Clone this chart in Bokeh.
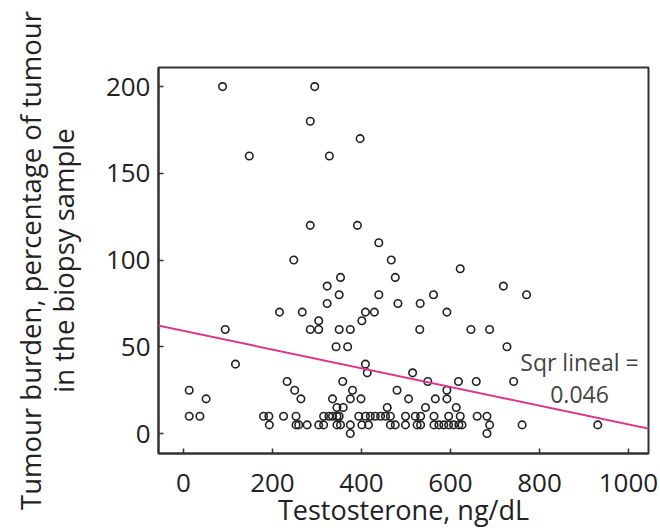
from bokeh.plotting import figure
from bokeh.models import Range1d, Slope, Label, FixedTicker, LinearAxis
from bokeh.embed import file_html
from bokeh.resources import INLINE

# ---- data ----
testosterone = [
    88, 295, 285, 397, 148, 328, 285, 391, 439, 248, 467, 476, 353, 622, 323, 719,
    350, 439, 562, 771, 323, 482, 532, 216, 267, 409, 429, 592, 304, 401,
    94, 285, 304, 350, 375, 531, 646, 688, 343, 369, 727, 117, 409, 413, 515,
    233, 358, 549, 618, 658, 742,
    13, 250, 380, 480, 592,
    51, 264, 335, 375, 399, 506, 566, 592,
    345, 359, 458, 544, 613,
    13, 37, 180, 192, 225, 253, 315, 327, 335, 345, 350, 394, 409, 420, 431, 443,
    454, 465, 499, 521, 533, 563, 596, 622, 660, 682,
    193, 253, 259, 278, 304, 315, 345, 353, 375, 401, 416, 465, 476, 499, 525, 533,
    563, 574, 585, 596, 607, 619, 626, 688, 761, 931,
    375, 682,
]
tumour_burden = [
    200, 200, 180, 170, 160, 160, 120, 120, 110, 100, 100, 90, 90, 95, 85, 85,
    80, 80, 80, 80, 75, 75, 75, 70, 70, 70, 70, 70, 65, 65,
    60, 60, 60, 60, 60, 60, 60, 60, 50, 50, 50, 40, 40, 35, 35,
    30, 30, 30, 30, 30, 30,
    25, 25, 25, 25, 25,
    20, 20, 20, 20, 20, 20, 20, 20,
    15, 15, 15, 15, 15,
    10, 10, 10, 10, 10, 10, 10, 10, 10, 10, 10, 10, 10, 10, 10, 10,
    10, 10, 10, 10, 10, 10, 10, 10, 10, 10,
    5, 5, 5, 5, 5, 5, 5, 5, 5, 5, 5, 5, 5, 5, 5, 5,
    5, 5, 5, 5, 5, 5, 5, 5, 5, 5,
    0, 0,
]
fit_intercept = 59.2
fit_slope = -0.0539
r_squared_text = ["Sqr lineal =", "0.046"]
x_title = "Testosterone, ng/dL"
y_title_lines = ["Tumour burden, percentage of tumour", "in the biopsy sample"]
x_ticks = [0, 200, 400, 600, 800, 1000]
y_ticks = [0, 50, 100, 150, 200]

FONT = "Open Sans"
TXT = "#222222"

p = figure(width=660, height=531, output_backend="svg", toolbar_location=None,
           x_range=Range1d(-56, 1045), y_range=Range1d(-11.5, 211),
           min_border_left=158, min_border_right=12, min_border_top=67,
           min_border_bottom=78)
p.background_fill_color = "white"
p.border_fill_color = "white"
p.outline_line_color = "#333333"
p.outline_line_width = 2
p.xgrid.visible = False
p.ygrid.visible = False

p.add_layout(Slope(gradient=fit_slope, y_intercept=fit_intercept,
                   line_color="#e0338c", line_width=2))

p.scatter(testosterone, tumour_burden, size=7.5, fill_color=None,
          line_color="#222222", line_width=1.6)

for ax, ticks in ((p.xaxis[0], x_ticks), (p.yaxis[0], y_ticks)):
    ax.ticker = FixedTicker(ticks=ticks)
    ax.axis_line_color = "#333333"
    ax.axis_line_width = 2
    ax.major_tick_in = 5
    ax.major_tick_out = 0
    ax.major_tick_line_color = "#333333"
    ax.major_tick_line_width = 1.5
    ax.minor_tick_line_color = None
    ax.major_label_text_font = FONT
    ax.major_label_text_font_size = "26px"
    ax.major_label_text_color = TXT

p.xaxis.major_label_standoff = 20
p.yaxis.major_label_standoff = 8
p.xaxis.axis_label = x_title
p.xaxis.axis_label_text_font = FONT
p.xaxis.axis_label_text_font_size = "27px"
p.xaxis.axis_label_text_font_style = "normal"
p.xaxis.axis_label_text_color = TXT
p.xaxis.axis_label_standoff = -4


def title_axis(text, bounds, standoff):
    return LinearAxis(ticker=FixedTicker(ticks=[]), bounds=bounds,
                      axis_line_color=None, major_tick_line_color=None,
                      minor_tick_line_color=None, major_tick_out=0,
                      major_tick_in=0, major_label_standoff=0,
                      axis_label=text, axis_label_standoff=standoff,
                      axis_label_text_font=FONT,
                      axis_label_text_font_size="27.5px",
                      axis_label_text_font_style="normal",
                      axis_label_text_color=TXT)


p.add_layout(title_axis(y_title_lines[1], (81.8, 211), 21), "left")
p.add_layout(title_axis(y_title_lines[0], (-5.8, 211), -7), "left")

p.add_layout(Label(x=890, y=41, text=r_squared_text[0], text_font=FONT,
                   text_font_size="23px", text_color="#444444",
                   text_align="center", text_baseline="middle"))
p.add_layout(Label(x=890, y=22.5, text=r_squared_text[1], text_font=FONT,
                   text_font_size="23px", text_color="#444444",
                   text_align="center", text_baseline="middle"))

open("out.html", "w").write(file_html(p, INLINE))
